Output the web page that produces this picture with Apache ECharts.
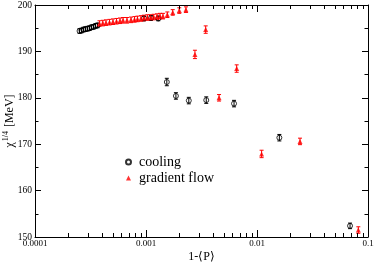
<!DOCTYPE html>
<html><head><meta charset="utf-8">
<script src="https://cdn.jsdelivr.net/npm/echarts@6/dist/echarts.min.js"></script>
<style>html,body{margin:0;padding:0;background:#fff}#c{width:374px;height:264px}</style>
</head><body><div id="c"></div>
<script>
// ---- data ----
const coolingX = [0.000252, 0.000262, 0.000273, 0.000285, 0.000297, 0.000310, 0.000323, 0.000337, 0.000351, 0.000366,
  0.000959, 0.00111, 0.00129,
  0.00154, 0.00186, 0.00243, 0.00349, 0.00621, 0.0159, 0.0689];
const coolingY = [194.4, 194.5, 194.7, 194.8, 194.9, 195.0, 195.2, 195.3, 195.5, 195.6,
  197.1, 197.2, 197.1,
  183.4, 180.4, 179.4, 179.5, 178.75, 171.4, 152.4];
const coolingErr = [0.5, 0.5, 0.5, 0.5, 0.5, 0.5, 0.5, 0.5, 0.5, 0.5,
  0.5, 0.5, 0.5,
  0.8, 0.7, 0.7, 0.7, 0.7, 0.7, 0.6];

const flowX = [0.000381, 0.000408, 0.000436, 0.000469, 0.000504, 0.000542, 0.000583, 0.000621, 0.000674, 0.000733,
  0.000788, 0.000838, 0.000901, 0.000959, 0.001028, 0.001102, 0.001173, 0.001256, 0.001337, 0.001422,
  0.001556, 0.001741, 0.001995, 0.002291,
  0.00276, 0.00345, 0.00455, 0.00656, 0.0110, 0.0244, 0.0818];
const flowY = [196.0, 196.1, 196.2, 196.3, 196.4, 196.5, 196.6, 196.7, 196.7, 196.8,
  196.9, 197.0, 197.1, 197.2, 197.3, 197.3, 197.4, 197.5, 197.6, 197.6,
  197.9, 198.4, 198.8, 199.0,
  189.35, 194.7, 180.0, 186.3, 167.9, 170.6, 151.5];
const flowErr = [0.6, 0.6, 0.6, 0.6, 0.6, 0.6, 0.6, 0.6, 0.6, 0.6,
  0.6, 0.6, 0.6, 0.6, 0.6, 0.6, 0.6, 0.6, 0.6, 0.6,
  0.6, 0.6, 0.6, 0.6,
  0.9, 0.8, 0.7, 0.8, 0.8, 0.7, 0.7];

const xTickLabels = ['0.0001', '0.001', '0.01', '0.1'];
const xMinorTicks = [2e-4,3e-4,4e-4,5e-4,6e-4,7e-4,8e-4,9e-4, 2e-3,3e-3,4e-3,5e-3,6e-3,7e-3,8e-3,9e-3, 2e-2,3e-2,4e-2,5e-2,6e-2,7e-2,8e-2,9e-2];
const yMin = 150, yMax = 200, yStep = 10;

// ---- chart ----
const FONT = 'Liberation Serif';
const pts = (xs, ys) => xs.map((x, i) => [x, ys[i]]);
const errs = (xs, ys, es) => xs.map((x, i) => [x, ys[i] - es[i], ys[i] + es[i]]);

function errRender(color) {
  return function (params, api) {
    const x = api.value(0), lo = api.value(1), hi = api.value(2);
    const a = api.coord([x, lo]), b = api.coord([x, hi]);
    const w = 2;
    const st = { stroke: color, lineWidth: 1 };
    return { type: 'group', children: [
      { type: 'line', shape: { x1: a[0], y1: a[1], x2: b[0], y2: b[1] }, style: st },
      { type: 'line', shape: { x1: a[0] - w, y1: a[1], x2: a[0] + w, y2: a[1] }, style: st },
      { type: 'line', shape: { x1: b[0] - w, y1: b[1], x2: b[0] + w, y2: b[1] }, style: st }
    ]};
  };
}

function minorRender(params, api) {
  const v = api.value(0);
  const pb = api.coord([v, yMin]);
  const pt = api.coord([v, yMax]);
  const x = Math.round(pb[0]) + 0.5;
  const st = { stroke: '#000', lineWidth: 1 };
  const L = 4;
  const yb = Math.round(pb[1]), yt = Math.round(pt[1]);
  return { type: 'group', children: [
    { type: 'line', shape: { x1: x, y1: yb, x2: x, y2: yb - L }, style: st },
    { type: 'line', shape: { x1: x, y1: yt, x2: x, y2: yt + L }, style: st }
  ]};
}

const axLine = { show: true, lineStyle: { color: '#000', width: 1 } };
const chart = echarts.init(document.getElementById('c'), null, { renderer: 'canvas' });
chart.setOption({
  animation: false,
  backgroundColor: '#fff',
  grid: { left: 35, right: 6, top: 5, bottom: 27, containLabel: false, outerBoundsMode: 'none' },
  legend: {
    orient: 'vertical', left: 125, top: 155, padding: 0, itemGap: 2,
    itemWidth: 5, itemHeight: 5,
    textStyle: { fontFamily: FONT, fontSize: 14, color: '#000', padding: [0, 0, 0, 3] },
    data: ['cooling', 'gradient flow']
  },
  xAxis: [{
    type: 'log', logBase: 10, min: 0.0001, max: 0.1, position: 'bottom',
    axisLine: axLine,
    axisTick: { show: true, inside: true, length: 7, lineStyle: { color: '#000' } },
    axisLabel: { fontFamily: FONT, fontSize: 9, color: '#000', margin: 2,
      formatter: v => xTickLabels[Math.round(Math.log10(v)) + 4] },
    splitLine: { show: false },
    name: '1-⟨P⟩', nameLocation: 'middle', nameGap: 14, nameMoveOverlap: false,
    nameTextStyle: { fontFamily: FONT, fontSize: 12, color: '#000' }
  }, {
    type: 'log', logBase: 10, min: 0.0001, max: 0.1, position: 'top',
    axisLine: axLine,
    axisTick: { show: true, inside: true, length: 7, lineStyle: { color: '#000' } },
    axisLabel: { show: false }, splitLine: { show: false }
  }],
  yAxis: [{
    type: 'value', min: yMin, max: yMax, interval: yStep, position: 'left',
    axisLine: axLine,
    axisTick: { show: true, inside: true, length: 6, lineStyle: { color: '#000' } },
    minorTick: { show: true, splitNumber: 2, length: 3.5, lineStyle: { color: '#000' } },
    axisLabel: { fontFamily: FONT, fontSize: 9.5, color: '#000', margin: 3 },
    splitLine: { show: false },
    name: '{a|χ}{s|1/4}{a| [MeV]}', nameLocation: 'middle', nameGap: 19, nameRotate: 90,
    nameMoveOverlap: false,
    nameTextStyle: { fontFamily: FONT, fontSize: 12, color: '#000',
      rich: { a: { fontFamily: FONT, fontSize: 12, color: '#000', verticalAlign: 'bottom' },
              s: { fontFamily: FONT, fontSize: 8, color: '#000', verticalAlign: 'bottom', padding: [0, 1, 6, 1] } } }
  }, {
    type: 'value', min: yMin, max: yMax, interval: yStep, position: 'right',
    axisLine: axLine,
    axisTick: { show: true, inside: true, length: 6, lineStyle: { color: '#000' } },
    minorTick: { show: true, splitNumber: 2, length: 3.5, lineStyle: { color: '#000' } },
    axisLabel: { show: false }, splitLine: { show: false }
  }],
  series: [
    { type: 'custom', silent: true, clip: false, xAxisIndex: 0, yAxisIndex: 0, z: 5,
      data: xMinorTicks.map(v => [v, yMin]), encode: { x: 0, y: 1 }, renderItem: minorRender },
    { name: 'cooling', type: 'scatter', xAxisIndex: 0, yAxisIndex: 0, symbol: 'circle', symbolSize: 5,
      itemStyle: { color: 'rgba(0,0,0,0)', borderColor: '#000', borderWidth: 1 },
      data: pts(coolingX, coolingY) },
    { type: 'custom', silent: true, xAxisIndex: 0, yAxisIndex: 0,
      data: errs(coolingX, coolingY, coolingErr), encode: { x: 0, y: [1, 2] }, renderItem: errRender('#000') },
    { type: 'custom', silent: true, xAxisIndex: 0, yAxisIndex: 0,
      data: errs(flowX, flowY, flowErr), encode: { x: 0, y: [1, 2] }, renderItem: errRender('#ff0000') },
    { name: 'gradient flow', type: 'scatter', xAxisIndex: 0, yAxisIndex: 0, symbol: 'triangle', symbolSize: 5,
      itemStyle: { color: '#ff0000' },
      data: pts(flowX, flowY) }
  ]
});
</script></body></html>
